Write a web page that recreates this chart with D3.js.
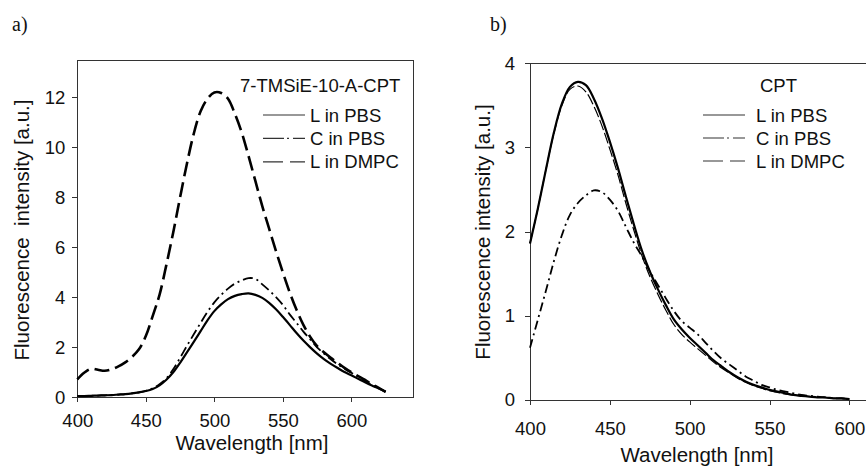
<!DOCTYPE html>
<html>
<head>
<title>Fluorescence spectra</title>
<script charset="utf-8" src="https://d3js.org/d3.v7.min.js"></script>
<style>
  body { margin: 0; background: #fff; }
  svg text { font-family: "Liberation Sans", Arial, sans-serif; fill: #111; }
  .axis path, .axis line { stroke: #333; stroke-width: 1px; shape-rendering: crispEdges; }
  .axis text { font-size: 18.5px; }
  .frame { stroke: #333; stroke-width: 1px; shape-rendering: crispEdges; }
  .panel-label { font-family: "Liberation Serif", "Times New Roman", serif !important; font-size: 20px; }
  .axis-title { font-size: 20.5px; }
  .legend text { font-size: 18.5px; }
</style>
</head>
<body>
<div id="chart"></div>
<script>
// ---- data ----
var wavelengthA = [400,405,410,415,420,425,430,435,440,445,450,455,460,465,470,475,480,485,490,495,
                   500,505,510,515,520,525,530,535,540,545,550,555,560,565,570,575,580,585,590,595,
                   600,605,610,615,620,625];
var aLinPBS  = [0.05,0.05,0.06,0.07,0.08,0.09,0.11,0.13,0.16,0.20,0.25,0.33,0.48,0.70,1.00,1.38,1.80,2.22,2.65,3.08,
                3.45,3.72,3.93,4.06,4.13,4.16,4.10,3.98,3.78,3.52,3.22,2.90,2.57,2.27,2.00,1.75,1.53,1.34,1.17,1.01,
                0.88,0.74,0.60,0.47,0.35,0.22];
var aCinPBS  = [0.05,0.05,0.06,0.07,0.08,0.09,0.11,0.13,0.16,0.20,0.26,0.36,0.52,0.76,1.12,1.58,2.06,2.52,2.98,3.42,
                3.80,4.10,4.35,4.55,4.68,4.77,4.74,4.52,4.28,4.01,3.70,3.32,2.98,2.63,2.32,2.00,1.75,1.52,1.32,1.14,
                0.98,0.82,0.65,0.50,0.36,0.22];
var aLinDMPC = [0.72,0.98,1.14,1.10,1.06,1.12,1.24,1.40,1.62,1.92,2.45,3.25,4.10,5.30,6.60,8.00,9.35,10.55,11.45,11.95,
                12.20,12.18,11.95,11.35,10.60,9.65,8.65,7.65,6.75,5.85,5.00,4.20,3.50,2.90,2.42,2.05,1.80,1.58,1.38,1.18,
                1.00,0.85,0.70,0.52,0.38,0.22];

var wavelengthB = [400,405,410,415,420,425,430,435,440,445,450,455,460,465,470,475,480,485,490,495,
                   500,505,510,515,520,525,530,535,540,545,550,555,560,565,570,575,580,585,590,595,600];
var bLinPBS  = [1.86,2.28,2.74,3.18,3.52,3.72,3.78,3.74,3.58,3.35,3.07,2.76,2.42,2.09,1.78,1.53,1.32,1.13,0.96,0.84,
                0.74,0.65,0.56,0.47,0.40,0.33,0.27,0.22,0.18,0.15,0.12,0.10,0.08,0.06,0.05,0.04,0.03,0.03,0.02,0.02,0.01];
var bCinPBS  = [0.62,0.96,1.30,1.65,1.96,2.20,2.34,2.43,2.49,2.47,2.38,2.25,2.06,1.87,1.71,1.53,1.37,1.21,1.06,0.94,
                0.86,0.78,0.68,0.58,0.49,0.42,0.35,0.28,0.23,0.18,0.15,0.12,0.10,0.08,0.06,0.05,0.04,0.03,0.02,0.02,0.01];
var bLinDMPC = [1.86,2.28,2.74,3.17,3.50,3.69,3.73,3.66,3.49,3.26,2.98,2.68,2.34,2.02,1.72,1.47,1.26,1.07,0.90,0.78,
                0.69,0.61,0.53,0.45,0.38,0.32,0.26,0.21,0.17,0.14,0.11,0.09,0.07,0.06,0.05,0.04,0.03,0.03,0.02,0.02,0.01];

var xTicksA = [400, 450, 500, 550, 600];
var yTicksA = [0, 2, 4, 6, 8, 10, 12];
var xTicksB = [400, 450, 500, 550, 600];
var yTicksB = [0, 1, 2, 3, 4];

var legendLabels = ["L in PBS", "C in PBS", "L in DMPC"];
var compoundNames = ["7-TMSiE-10-A-CPT", "CPT"];

var width = 866, height = 470;

var svg = d3.select("#chart").append("svg")
    .attr("width", width)
    .attr("height", height);

function drawPanel(p) {
  var x = d3.scaleLinear().domain(p.xDomain).range([p.left, p.right]);
  var y = d3.scaleLinear().domain(p.yDomain).range([p.bottom, p.top]);

  var g = svg.append("g");

  // box round the plot
  g.append("line").attr("class", "frame")
      .attr("x1", p.left).attr("x2", p.frameRight).attr("y1", p.top + 0.5).attr("y2", p.top + 0.5);
  if (p.rightBorder) {
    g.append("line").attr("class", "frame")
        .attr("x1", p.right + 0.5).attr("x2", p.right + 0.5).attr("y1", p.top).attr("y2", p.bottom);
  }

  g.append("g")
      .attr("class", "axis")
      .attr("transform", "translate(0," + p.bottom + ")")
      .call(d3.axisBottom(x).tickValues(p.xTicks).tickFormat(d3.format("d"))
            .tickSize(5).tickSizeOuter(0).tickPadding(p.xPad));

  g.append("g")
      .attr("class", "axis")
      .attr("transform", "translate(" + p.left + ",0)")
      .call(d3.axisLeft(y).tickValues(p.yTicks).tickFormat(d3.format("d"))
            .tickSize(5).tickSizeOuter(0).tickPadding(p.yPad));

  var line = d3.line()
      .x(function(d) { return x(d[0]); })
      .y(function(d) { return y(d[1]); })
      .curve(d3.curveCatmullRom.alpha(0.5));

  p.series.forEach(function(s) {
    g.append("path")
        .datum(p.wavelength.map(function(w, i) { return [w, s.values[i]]; }))
        .attr("fill", "none")
        .attr("stroke", "#000")
        .attr("stroke-width", s.width)
        .attr("stroke-dasharray", s.dash)
        .attr("d", line);
  });

  // axis titles
  g.append("text")
      .attr("class", "axis-title")
      .attr("x", p.xTitleX).attr("y", p.xTitleY)
      .attr("text-anchor", "middle")
      .text("Wavelength [nm]");

  g.append("text")
      .attr("class", "axis-title")
      .attr("transform", "translate(" + p.yTitleX + "," + p.yTitleY + ") rotate(-90)")
      .attr("text-anchor", "middle")
      .style("white-space", "pre")
      .text(p.yTitle);

  // legend
  var leg = g.append("g").attr("class", "legend");
  leg.append("text").attr("x", p.legTitleX).attr("y", p.legTitleY).text(p.compound);
  legendLabels.forEach(function(lab, i) {
    var by = p.legY0 + i * p.legStep;
    leg.append("line")
        .attr("x1", p.legLineX1).attr("x2", p.legLineX2)
        .attr("y1", by - 6.5).attr("y2", by - 6.5)
        .attr("stroke", "#333")
        .attr("stroke-width", 1.2)
        .attr("stroke-dasharray", p.legDash[i]);
    leg.append("text").attr("x", p.legTextX).attr("y", by).text(lab);
  });

  svg.append("text")
      .attr("class", "panel-label")
      .attr("x", p.labelX).attr("y", 31)
      .text(p.label);
}

drawPanel({
  label: "a)", labelX: 12,
  left: 77.3, right: 413, top: 60, bottom: 397.3, frameRight: 413, rightBorder: true,
  xDomain: [400, 645], yDomain: [0, 13.5],
  xTicks: xTicksA, yTicks: yTicksA, xPad: 11.5, yPad: 7,
  wavelength: wavelengthA,
  series: [
    { values: aLinPBS,  width: 2.2, dash: null },
    { values: aCinPBS,  width: 1.8, dash: "10,4,2,4" },
    { values: aLinDMPC, width: 2.6, dash: "15,6" }
  ],
  xTitleX: 252, xTitleY: 450,
  yTitleX: 29, yTitleY: 230, yTitle: "Fluorescence  intensity [a.u.]",
  compound: compoundNames[0], legTitleX: 240, legTitleY: 92,
  legLineX1: 263, legLineX2: 305, legTextX: 310, legY0: 121.5, legStep: 23.4,
  legDash: [null, "21,3,2,4,12", "20,7,15"]
});

drawPanel({
  label: "b)", labelX: 490,
  left: 530, right: 865.3, top: 63.3, bottom: 400, frameRight: 866, rightBorder: false,
  xDomain: [400, 610], yDomain: [0, 4],
  xTicks: xTicksB, yTicks: yTicksB, xPad: 17, yPad: 10,
  wavelength: wavelengthB,
  series: [
    { values: bLinPBS,  width: 2.2, dash: null },
    { values: bCinPBS,  width: 1.8, dash: "9,4,2,4" },
    { values: bLinDMPC, width: 1.2, dash: "11,3" }
  ],
  xTitleX: 697, xTitleY: 462,
  yTitleX: 490, yTitleY: 232, yTitle: "Fluorescence intensity [a.u.]",
  compound: compoundNames[1], legTitleX: 760, legTitleY: 92,
  legLineX1: 703, legLineX2: 745, legTextX: 756, legY0: 121.5, legStep: 23,
  legDash: [null, "21,3,2,4,12", "20,7,15"]
});
</script>
</body>
</html>
